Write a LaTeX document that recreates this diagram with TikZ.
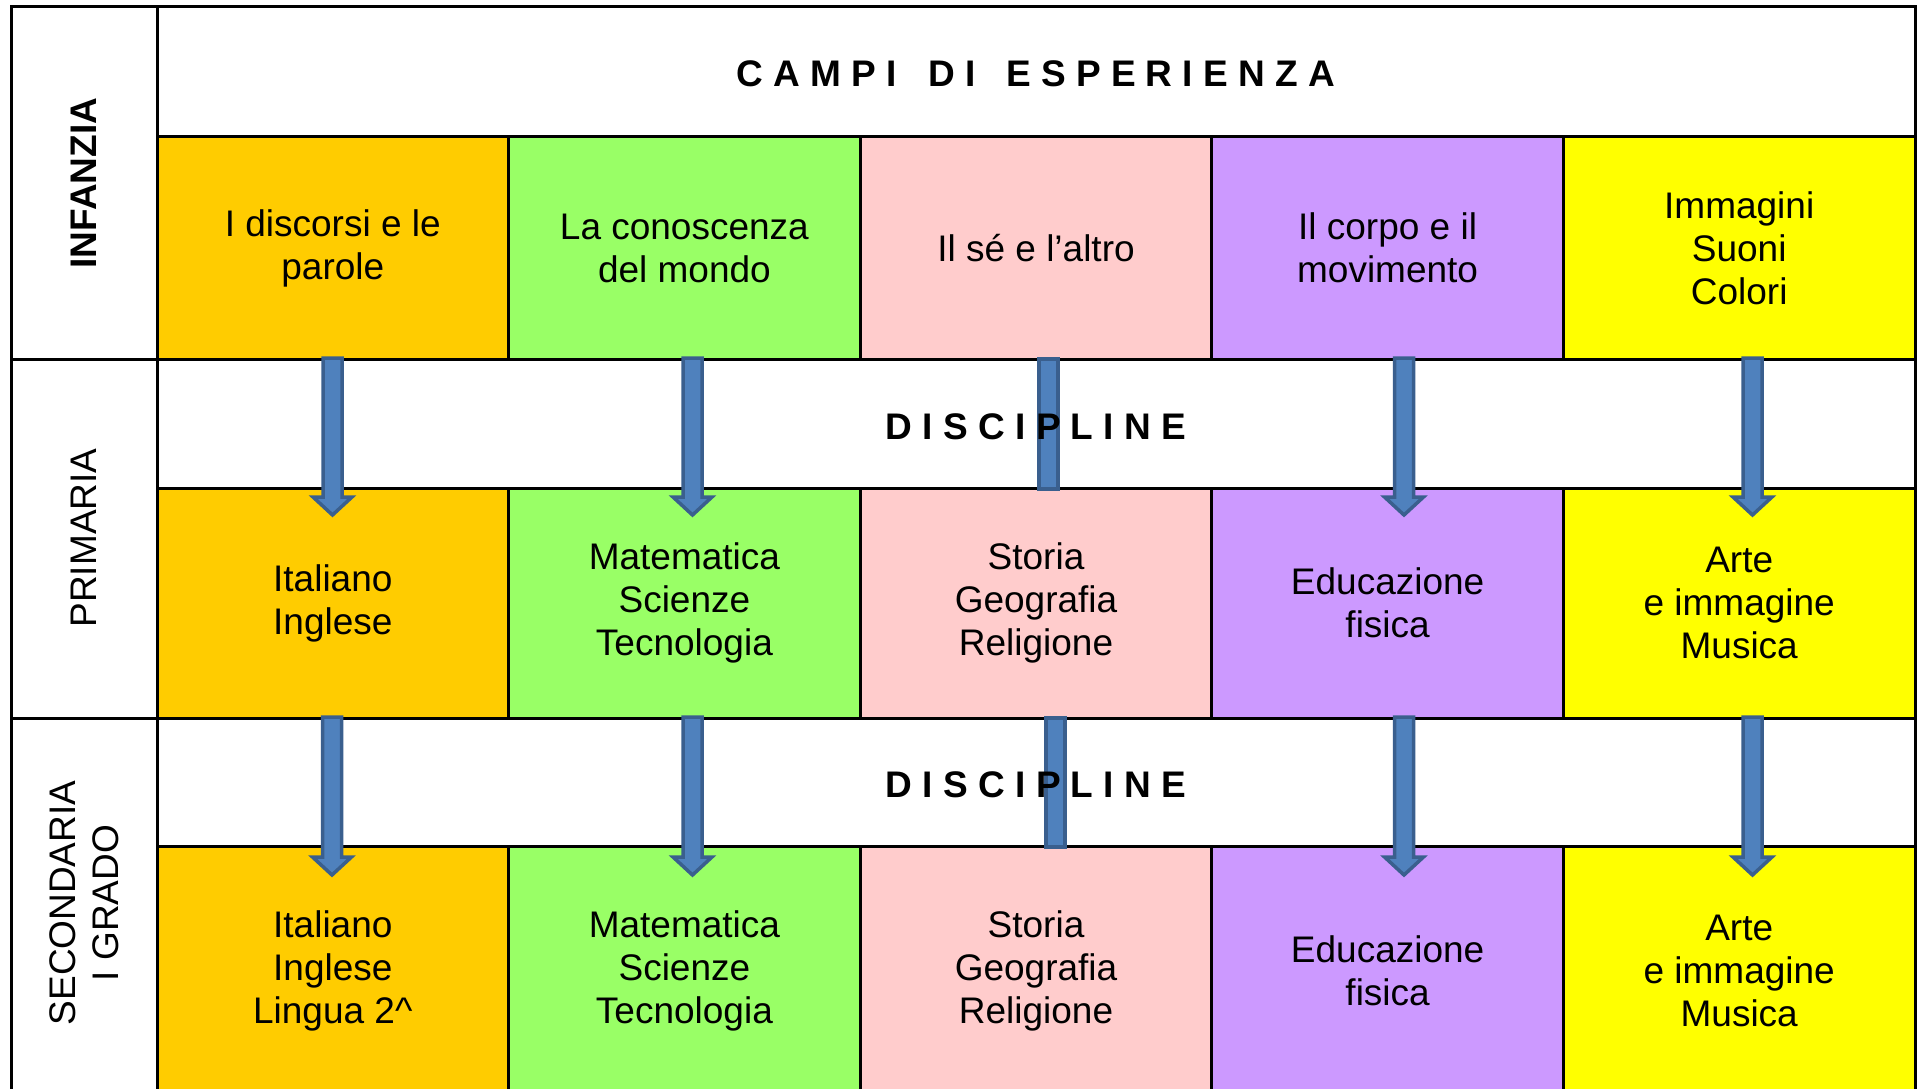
\documentclass[tikz,border=0pt]{standalone}
\usepackage{fontspec}
\setmainfont{Liberation Sans}
\usetikzlibrary{calc}

\definecolor{orangecell}{HTML}{FFCC00}
\definecolor{greencell}{HTML}{99FF66}
\definecolor{pinkcell}{HTML}{FFCCCC}
\definecolor{lilaccell}{HTML}{CC99FF}
\definecolor{yellowcell}{HTML}{FFFF00}
\definecolor{arrowfill}{HTML}{4F81BD}
\definecolor{arrowline}{HTML}{3A5F8E}

% block arrow: start coordinate, shaft length
\newcommand{\blockarrow}[2]{%
  \draw[blockarr] ($(#1)+(-9.5,0)$) -- ++(19,0) -- ++(0,#2) -- ++(10,0) -- ++(-19.5,18) -- ++(-19.5,-18) -- ++(10,0) -- cycle;}
\newcommand{\blockshaft}[2]{%
  \draw[blockarr] ($(#1)+(-9.5,0)$) rectangle ++(19,#2);}

\begin{document}
\begin{tikzpicture}[x=1pt, y=-1pt,
    every node/.style={font=\fontsize{37}{43}\selectfont},
    cell/.style={draw, line width=3pt, inner sep=0pt, outer sep=0pt, align=center, anchor=north west, minimum width=351.6pt},
    side/.style={draw, line width=3pt, inner sep=0pt, outer sep=0pt, anchor=north west, minimum width=146pt},
    band/.style={draw, line width=3pt, inner sep=0pt, outer sep=0pt, anchor=north west, minimum width=1758pt, fill=white},
    blockarr/.style={fill=arrowfill, draw=arrowline, line width=3.5pt, line join=miter}]
    \useasboundingbox (0,0) rectangle (1923,1089);

    % left column
    \node[side, minimum height=352pt] (sinf) at (11,7) {};
    \node[side, minimum height=359pt] (spri) at (11,359) {};
    \node[side, minimum height=374pt] (ssec) at (11,718) {};
    \node[rotate=90, font=\fontsize{37}{43}\selectfont\bfseries] (infanzia) at (84,183) {INFANZIA};
    \node[rotate=90] (primaria) at (84,538) {PRIMARIA};
    \node[rotate=90, align=center] (secondaria) at (84,903) {SECONDARIA\\I GRADO};

    % header
    \node[band, minimum height=130pt] (campi) at (157,7) {};
    \node[font=\fontsize{37}{43}\selectfont\bfseries] (campit) at (1036,74) {C A M P I\ \ \ D I\ \ \ E S P E R I E N Z A};

    % infanzia
    \node[cell, minimum height=222pt, fill=orangecell] (c11) at (157,137) {I discorsi e le\\parole};
    \node[cell, minimum height=222pt, fill=greencell] (c12) at (508.6,137) {La conoscenza\\del mondo};
    \node[cell, minimum height=222pt, fill=pinkcell] (c13) at (860.2,137) {Il sé e l’altro};
    \node[cell, minimum height=222pt, fill=lilaccell] (c14) at (1211.8,137) {Il corpo e il\\movimento};
    \node[cell, minimum height=222pt, fill=yellowcell] (c15) at (1563.4,137) {Immagini\\Suoni\\Colori};

    % primaria
    \node[band, minimum height=129pt] (disc1) at (157,359) {};
    \node[cell, minimum height=230pt, fill=orangecell] (c21) at (157,488) {Italiano\\Inglese};
    \node[cell, minimum height=230pt, fill=greencell] (c22) at (508.6,488) {Matematica\\Scienze\\Tecnologia};
    \node[cell, minimum height=230pt, fill=pinkcell] (c23) at (860.2,488) {Storia\\Geografia\\Religione};
    \node[cell, minimum height=230pt, fill=lilaccell] (c24) at (1211.8,488) {Educazione\\fisica};
    \node[cell, minimum height=230pt, fill=yellowcell] (c25) at (1563.4,488) {Arte\\e immagine\\Musica};

    % secondaria
    \node[band, minimum height=128pt] (disc2) at (157,718) {};
    \node[cell, minimum height=250pt, fill=orangecell] (c31) at (157,846) {Italiano\\Inglese\\Lingua 2\textasciicircum};
    \node[cell, minimum height=250pt, fill=greencell] (c32) at (508.6,846) {Matematica\\Scienze\\Tecnologia};
    \node[cell, minimum height=250pt, fill=pinkcell] (c33) at (860.2,846) {Storia\\Geografia\\Religione};
    \node[cell, minimum height=250pt, fill=lilaccell] (c34) at (1211.8,846) {Educazione\\fisica};
    \node[cell, minimum height=250pt, fill=yellowcell] (c35) at (1563.4,846) {Arte\\e immagine\\Musica};

    % arrows
    \coordinate (a11) at (332.5,358);
    \coordinate (a12) at (692.5,358);
    \coordinate (a13) at (1048.5,359);
    \coordinate (a14) at (1404,358);
    \coordinate (a15) at (1752.5,358);
    \coordinate (a21) at (332,717);
    \coordinate (a22) at (692.5,717);
    \coordinate (a23) at (1055.5,718);
    \coordinate (a24) at (1404,717);
    \coordinate (a25) at (1752.5,717);
    \blockarrow{a11}{139}
    \blockarrow{a12}{139}
    \blockshaft{a13}{130}
    \blockarrow{a14}{139}
    \blockarrow{a15}{139}
    \blockarrow{a21}{140}
    \blockarrow{a22}{140}
    \blockshaft{a23}{129}
    \blockarrow{a24}{140}
    \blockarrow{a25}{140}

    \node[font=\fontsize{37}{43}\selectfont\bfseries] (disc1t) at (1036,427) {D I S C I P L I N E};
    \node[font=\fontsize{37}{43}\selectfont\bfseries] (disc2t) at (1036,785) {D I S C I P L I N E};
\end{tikzpicture}
\end{document}
